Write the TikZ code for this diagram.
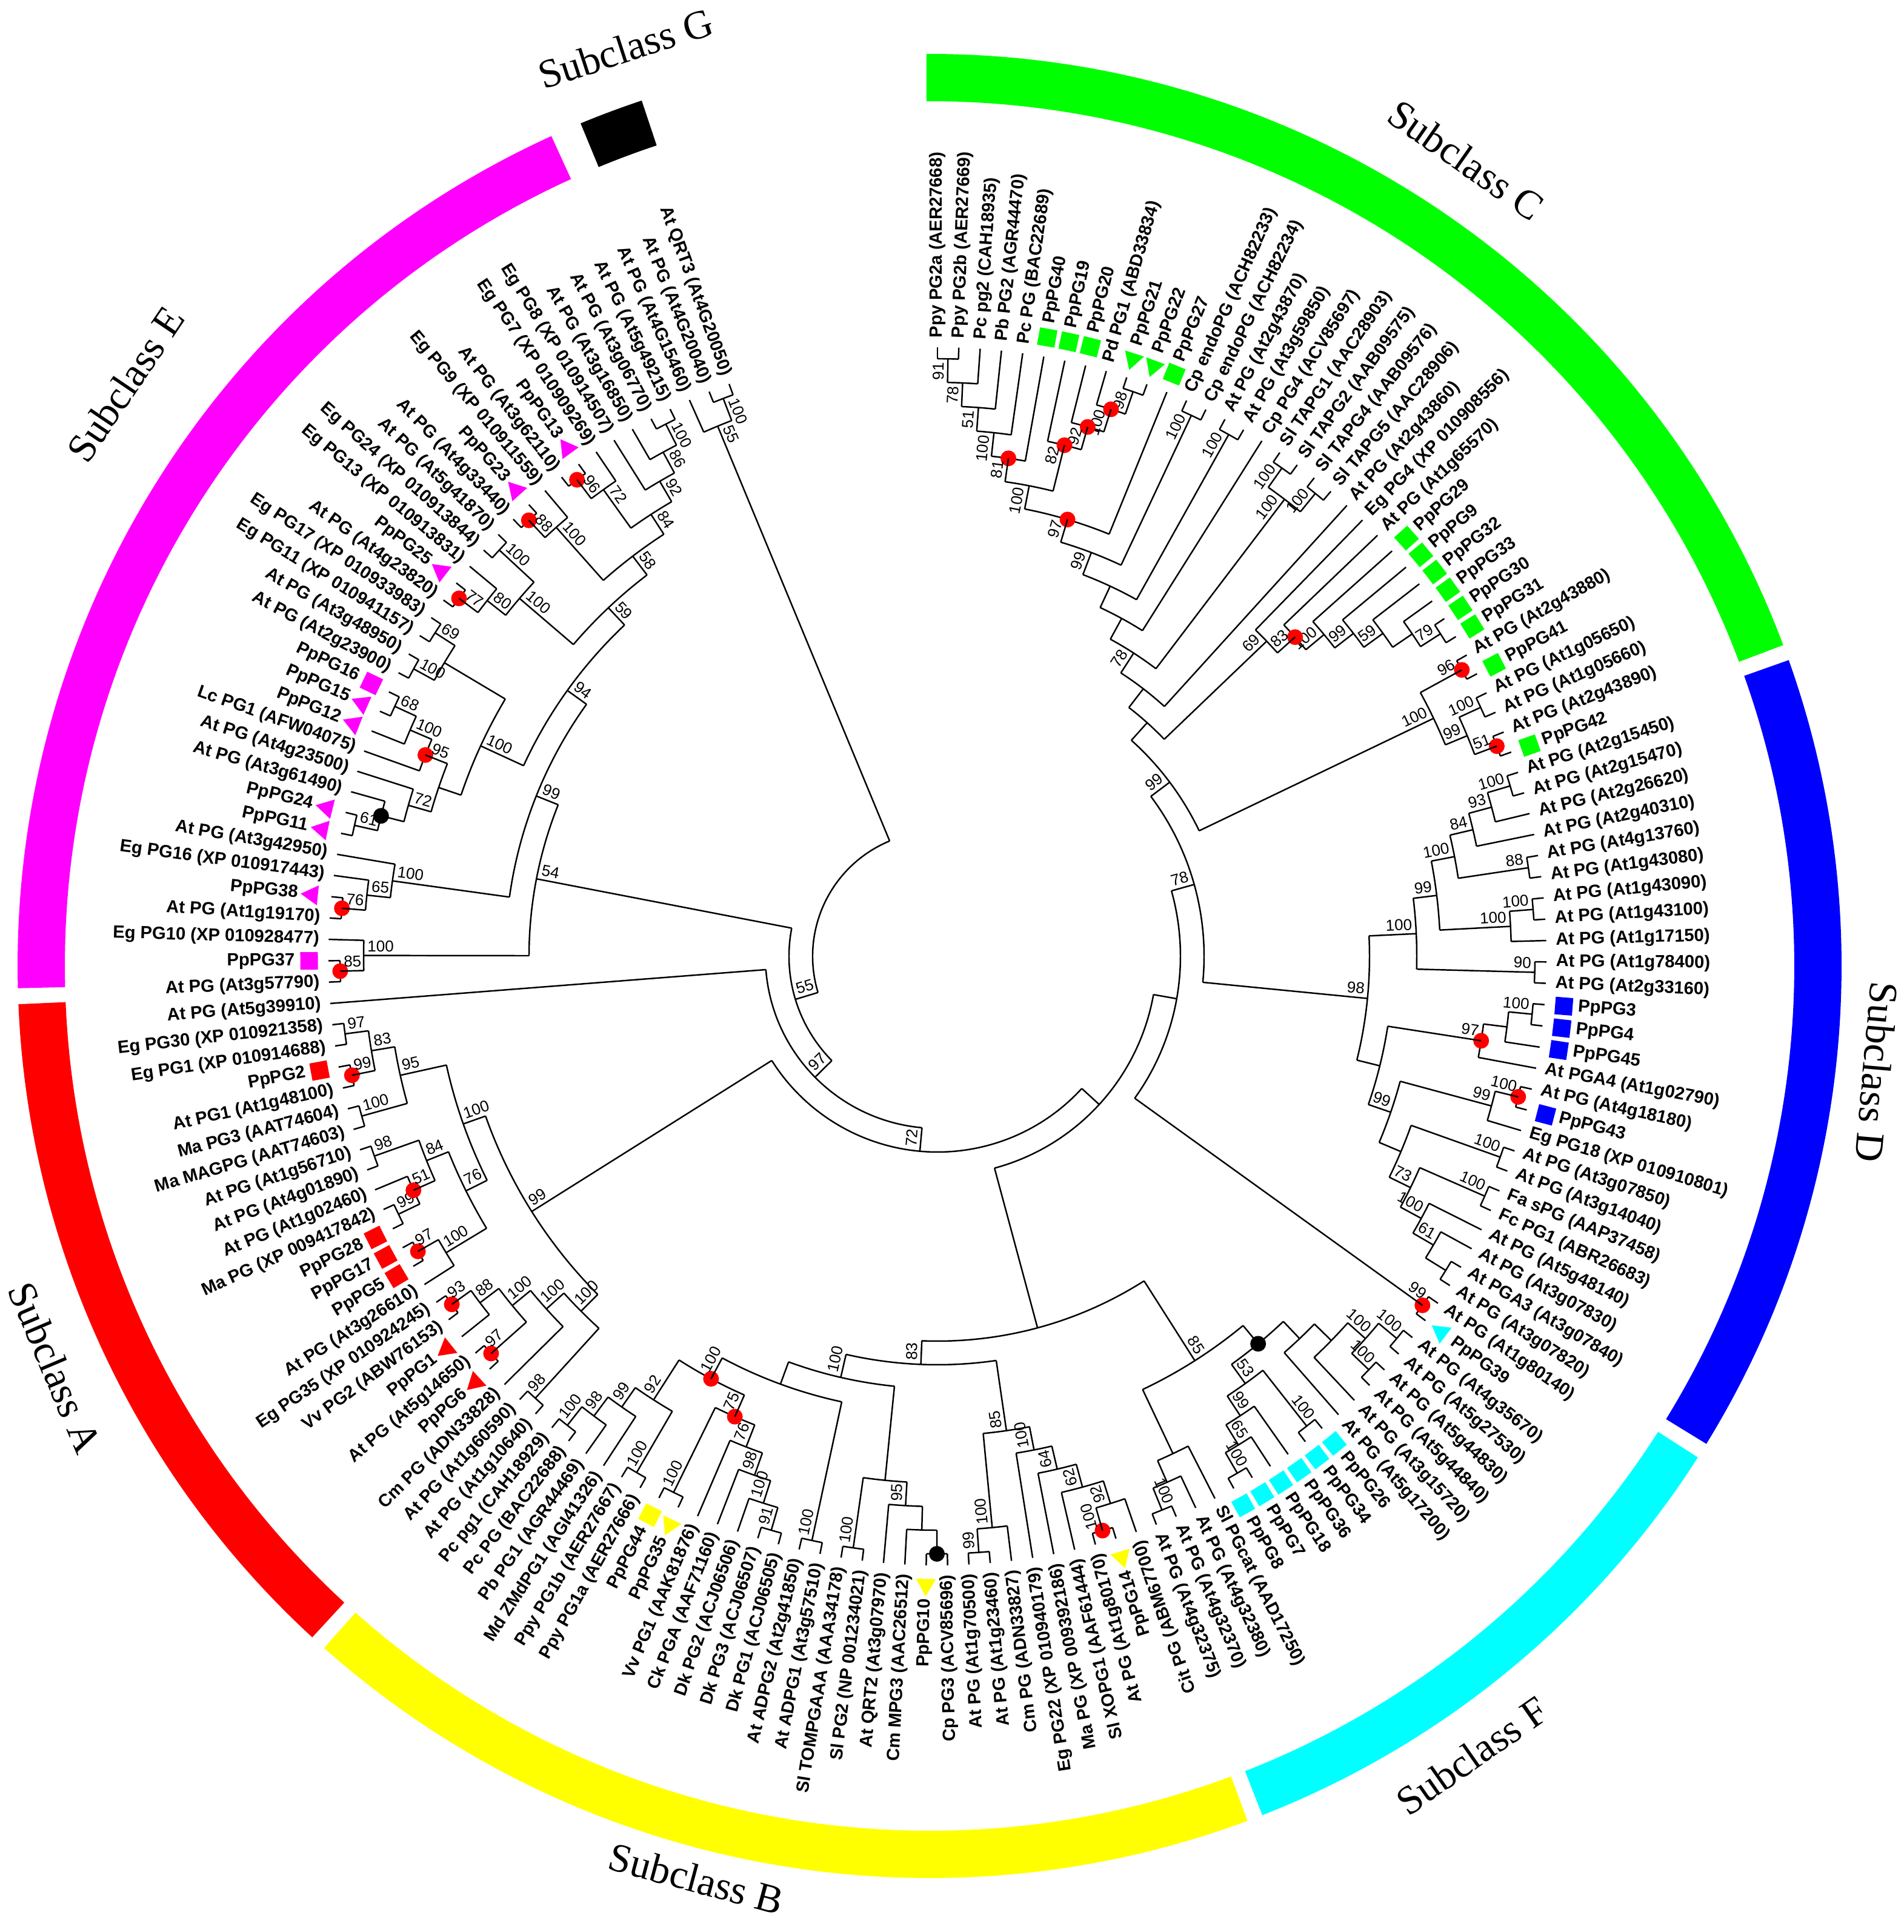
\documentclass[tikz,border=0pt]{standalone}
\usepackage{fontspec}
\setmainfont{Liberation Sans}
\newfontfamily\subfont{Liberation Serif}
\usetikzlibrary{shapes.geometric}
\definecolor{cgreen}{RGB}{0,255,0}
\definecolor{cblue}{RGB}{0,0,255}
\definecolor{ccyan}{RGB}{0,255,255}
\definecolor{cyellow}{RGB}{255,255,0}
\definecolor{cred}{RGB}{255,0,0}
\definecolor{cmag}{RGB}{255,0,255}
\definecolor{dotred}{RGB}{255,0,0}
\tikzset{
  tree/.style={line width=0.7pt},
  leaflab/.style={font=\fontsize{8.3}{9}\selectfont\bfseries, inner sep=0pt},
  bslab/.style={font=\fontsize{7.4}{8.5}\selectfont, inner sep=1.6pt},
  sqm/.style={rectangle, minimum size=0.29cm, inner sep=0pt},
  trim/.style={regular polygon, regular polygon sides=3, minimum size=0.38cm, inner sep=0pt},
  sublab/.style={font=\subfont\fontsize{19}{22}\selectfont, inner sep=0pt}
}
\def\stepA{2.0118}
\def\Rt{10.05}
\def\Rz{10.25}
\def\dd{0.39}
\newcommand\LD[4]{\expandafter\def\csname ln#1\endcsname{#2}\expandafter\def\csname mt#1\endcsname{#3}\expandafter\def\csname mc#1\endcsname{#4}}
\LD{1}{Ppy PG2a (AER27668)}{0}{}
\LD{2}{Ppy PG2b (AER27669)}{0}{}
\LD{3}{Pc pg2 (CAH18935)}{0}{}
\LD{4}{Pb PG2 (AGR44470)}{0}{}
\LD{5}{Pc PG (BAC22689)}{0}{}
\LD{6}{PpPG40}{1}{cgreen}
\LD{7}{PpPG19}{1}{cgreen}
\LD{8}{PpPG20}{1}{cgreen}
\LD{9}{Pd PG1 (ABD33834)}{0}{}
\LD{10}{PpPG21}{2}{cgreen}
\LD{11}{PpPG22}{2}{cgreen}
\LD{12}{PpPG27}{1}{cgreen}
\LD{13}{Cp endoPG (ACH82233)}{0}{}
\LD{14}{Cp endoPG (ACH82234)}{0}{}
\LD{15}{At PG (At2g43870)}{0}{}
\LD{16}{At PG (At3g59850)}{0}{}
\LD{17}{Cp PG4 (ACV85697)}{0}{}
\LD{18}{Sl TAPG1 (AAC28903)}{0}{}
\LD{19}{Sl TAPG2 (AAB09575)}{0}{}
\LD{20}{Sl TAPG4 (AAB09576)}{0}{}
\LD{21}{Sl TAPG5 (AAC28906)}{0}{}
\LD{22}{At PG (At2g43860)}{0}{}
\LD{23}{Eg PG4 (XP 010908556)}{0}{}
\LD{24}{At PG (At1g65570)}{0}{}
\LD{25}{PpPG29}{1}{cgreen}
\LD{26}{PpPG9}{1}{cgreen}
\LD{27}{PpPG32}{1}{cgreen}
\LD{28}{PpPG33}{1}{cgreen}
\LD{29}{PpPG30}{1}{cgreen}
\LD{30}{PpPG31}{1}{cgreen}
\LD{31}{At PG (At2g43880)}{0}{}
\LD{32}{PpPG41}{1}{cgreen}
\LD{33}{At PG (At1g05650)}{0}{}
\LD{34}{At PG (At1g05660)}{0}{}
\LD{35}{At PG (At2g43890)}{0}{}
\LD{36}{PpPG42}{1}{cgreen}
\LD{37}{At PG (At2g15450)}{0}{}
\LD{38}{At PG (At2g15470)}{0}{}
\LD{39}{At PG (At2g26620)}{0}{}
\LD{40}{At PG (At2g40310)}{0}{}
\LD{41}{At PG (At4g13760)}{0}{}
\LD{42}{At PG (At1g43080)}{0}{}
\LD{43}{At PG (At1g43090)}{0}{}
\LD{44}{At PG (At1g43100)}{0}{}
\LD{45}{At PG (At1g17150)}{0}{}
\LD{46}{At PG (At1g78400)}{0}{}
\LD{47}{At PG (At2g33160)}{0}{}
\LD{48}{PpPG3}{1}{cblue}
\LD{49}{PpPG4}{1}{cblue}
\LD{50}{PpPG45}{1}{cblue}
\LD{51}{At PGA4 (At1g02790)}{0}{}
\LD{52}{At PG (At4g18180)}{0}{}
\LD{53}{PpPG43}{1}{cblue}
\LD{54}{Eg PG18 (XP 010910801)}{0}{}
\LD{55}{At PG (At3g07850)}{0}{}
\LD{56}{At PG (At3g14040)}{0}{}
\LD{57}{Fa sPG (AAP37458)}{0}{}
\LD{58}{Fc PG1 (ABR26683)}{0}{}
\LD{59}{At PG (At5g48140)}{0}{}
\LD{60}{At PG (At3g07830)}{0}{}
\LD{61}{At PGA3 (At3g07840)}{0}{}
\LD{62}{At PG (At3g07820)}{0}{}
\LD{63}{At PG (At1g80140)}{0}{}
\LD{64}{PpPG39}{2}{ccyan}
\LD{65}{At PG (At4g35670)}{0}{}
\LD{66}{At PG (At5g27530)}{0}{}
\LD{67}{At PG (At5g44830)}{0}{}
\LD{68}{At PG (At5g44840)}{0}{}
\LD{69}{At PG (At3g15720)}{0}{}
\LD{70}{At PG (At5g17200)}{0}{}
\LD{71}{PpPG26}{1}{ccyan}
\LD{72}{PpPG34}{1}{ccyan}
\LD{73}{PpPG36}{1}{ccyan}
\LD{74}{PpPG18}{1}{ccyan}
\LD{75}{PpPG7}{1}{ccyan}
\LD{76}{PpPG8}{1}{ccyan}
\LD{77}{Sl PGcat (AAD17250)}{0}{}
\LD{78}{At PG (At4g32380)}{0}{}
\LD{79}{At PG (At4g32370)}{0}{}
\LD{80}{At PG (At4g32375)}{0}{}
\LD{81}{Cit PG (ABM67700)}{0}{}
\LD{82}{PpPG14}{2}{cyellow}
\LD{83}{At PG (At1g80170)}{0}{}
\LD{84}{Sl XOPG1 (AAF61444)}{0}{}
\LD{85}{Ma PG (XP 009392186)}{0}{}
\LD{86}{Eg PG22 (XP 010940179)}{0}{}
\LD{87}{Cm PG (ADN33827)}{0}{}
\LD{88}{At PG (At1g23460)}{0}{}
\LD{89}{At PG (At1g70500)}{0}{}
\LD{90}{Cp PG3 (ACV85696)}{0}{}
\LD{91}{PpPG10}{2}{cyellow}
\LD{92}{Cm MPG3 (AAC26512)}{0}{}
\LD{93}{At QRT2 (At3g07970)}{0}{}
\LD{94}{Sl PG2 (NP 001234021)}{0}{}
\LD{95}{Sl TOMPGAAA (AAA34178)}{0}{}
\LD{96}{At ADPG1 (At3g57510)}{0}{}
\LD{97}{At ADPG2 (At2g41850)}{0}{}
\LD{98}{Dk PG1 (ACJ06505)}{0}{}
\LD{99}{Dk PG3 (ACJ06507)}{0}{}
\LD{100}{Dk PG2 (ACJ06506)}{0}{}
\LD{101}{Ck PGA (AAF71160)}{0}{}
\LD{102}{Vv PG1 (AAK81876)}{0}{}
\LD{103}{PpPG35}{2}{cyellow}
\LD{104}{PpPG44}{1}{cyellow}
\LD{105}{Ppy PG1a (AER27666)}{0}{}
\LD{106}{Ppy PG1b (AER27667)}{0}{}
\LD{107}{Md ZMdPG1 (AGI41326)}{0}{}
\LD{108}{Pb PG1 (AGR44469)}{0}{}
\LD{109}{Pc PG (BAC22688)}{0}{}
\LD{110}{Pc pg1 (CAH18929)}{0}{}
\LD{111}{At PG (At1g10640)}{0}{}
\LD{112}{At PG (At1g60590)}{0}{}
\LD{113}{Cm PG (ADN33828)}{0}{}
\LD{114}{PpPG6}{2}{cred}
\LD{115}{At PG (At5g14650)}{0}{}
\LD{116}{PpPG1}{2}{cred}
\LD{117}{Vv PG2 (ABW76153)}{0}{}
\LD{118}{Eg PG35 (XP 010924245)}{0}{}
\LD{119}{At PG (At3g26610)}{0}{}
\LD{120}{PpPG5}{1}{cred}
\LD{121}{PpPG17}{1}{cred}
\LD{122}{PpPG28}{1}{cred}
\LD{123}{Ma PG (XP 009417842)}{0}{}
\LD{124}{At PG (At1g02460)}{0}{}
\LD{125}{At PG (At4g01890)}{0}{}
\LD{126}{At PG (At1g56710)}{0}{}
\LD{127}{Ma MAGPG (AAT74603)}{0}{}
\LD{128}{Ma PG3 (AAT74604)}{0}{}
\LD{129}{At PG1 (At1g48100)}{0}{}
\LD{130}{PpPG2}{1}{cred}
\LD{131}{Eg PG1 (XP 010914688)}{0}{}
\LD{132}{Eg PG30 (XP 010921358)}{0}{}
\LD{133}{At PG (At5g39910)}{0}{}
\LD{134}{At PG (At3g57790)}{0}{}
\LD{135}{PpPG37}{1}{cmag}
\LD{136}{Eg PG10 (XP 010928477)}{0}{}
\LD{137}{At PG (At1g19170)}{0}{}
\LD{138}{PpPG38}{2}{cmag}
\LD{139}{Eg PG16 (XP 010917443)}{0}{}
\LD{140}{At PG (At3g42950)}{0}{}
\LD{141}{PpPG11}{2}{cmag}
\LD{142}{PpPG24}{2}{cmag}
\LD{143}{At PG (At3g61490)}{0}{}
\LD{144}{At PG (At4g23500)}{0}{}
\LD{145}{Lc PG1 (AFW04075)}{0}{}
\LD{146}{PpPG12}{2}{cmag}
\LD{147}{PpPG15}{2}{cmag}
\LD{148}{PpPG16}{1}{cmag}
\LD{149}{At PG (At2g23900)}{0}{}
\LD{150}{At PG (At3g48950)}{0}{}
\LD{151}{Eg PG11 (XP 010941157)}{0}{}
\LD{152}{Eg PG17 (XP 010933983)}{0}{}
\LD{153}{At PG (At4g23820)}{0}{}
\LD{154}{PpPG25}{2}{cmag}
\LD{155}{Eg PG13 (XP 010913831)}{0}{}
\LD{156}{Eg PG24 (XP 010913844)}{0}{}
\LD{157}{At PG (At5g41870)}{0}{}
\LD{158}{At PG (At4g33440)}{0}{}
\LD{159}{PpPG23}{2}{cmag}
\LD{160}{Eg PG9 (XP 010911559)}{0}{}
\LD{161}{At PG (At3g62110)}{0}{}
\LD{162}{PpPG13}{2}{cmag}
\LD{163}{Eg PG7 (XP 010909269)}{0}{}
\LD{164}{Eg PG8 (XP 010914507)}{0}{}
\LD{165}{At PG (At3g16850)}{0}{}
\LD{166}{At PG (At3g06770)}{0}{}
\LD{167}{At PG (At5g49215)}{0}{}
\LD{168}{At PG (At4G15460)}{0}{}
\LD{169}{At PG (At4G20040)}{0}{}
\LD{170}{At QRT3 (At4G20050)}{0}{}

\newcommand\addchild[3]{%
  \edef\clist{\unexpanded\expandafter{\clist}\noexpand\chd{#1}{#2}}%
  \ifx\cfirst\empty\edef\cfirst{#1}\fi
  \edef\clast{#1}%
  \pgfmathtruncatemacro\cmaxh{max(\cmaxh,#3)}%
}
\newcommand\drawleaf[1]{%
  \pgfmathtruncatemacro\flip{(mod(\tmpa+720,360)>109.5)&&(mod(\tmpa+720,360)<290)}%
  \edef\mt{\csname mt#1\endcsname}%
  \edef\mc{\csname mc#1\endcsname}%
  \ifcase\mt\relax
    \def\rl{10.20}%
  \or
    \def\rl{10.60}%
    \node[sqm,fill=\mc,rotate=\tmpa] at (\tmpa:10.37) {};%
  \or
    \def\rl{10.60}%
    \ifnum\flip=1
      \node[trim,fill=\mc,rotate=\tmpa-90] at (\tmpa:10.37) {};%
    \else
      \node[trim,fill=\mc,rotate=\tmpa+90] at (\tmpa:10.37) {};%
    \fi
  \fi
  \ifnum\flip=1
    \node[leaflab,rotate=\tmpa+180,anchor=east] at (\tmpa:\rl) {\csname ln#1\endcsname};%
  \else
    \node[leaflab,rotate=\tmpa,anchor=west] at (\tmpa:\rl) {\csname ln#1\endcsname};%
  \fi
}
\newcommand\Lf[1]{%
  \pgfmathsetmacro\tmpa{90-(#1-1)*\stepA}%
  \drawleaf{#1}%
  \addchild{\tmpa}{\Rt}{0}%
}
\newcommand\nodeextras[2]{%
  \if r#2\fill[dotred] (\mya:\myr) circle[radius=0.13cm];\fi
  \if k#2\fill[black] (\mya:\myr) circle[radius=0.13cm];\fi
  \if\relax\detokenize{#1}\relax\else
    \pgfmathtruncatemacro\flipb{(mod(\mya+720,360)>109.5)&&(mod(\mya+720,360)<290)}%
    \ifnum\flipb=1
      \node[bslab,rotate=\mya+180,anchor=south west] at (\mya:\myr) {#1};%
    \else
      \node[bslab,rotate=\mya,anchor=south east] at (\mya:\myr) {#1};%
    \fi
  \fi
}
\newcommand\Nd[3]{%
  \begingroup
    \def\clist{}\let\cfirst\empty\def\clast{}\def\cmaxh{0}%
    #3%
    \pgfmathtruncatemacro\myh{\cmaxh+1}%
    \pgfmathsetmacro\myr{\Rz-\dd*\myh}%
    \pgfmathsetmacro\mya{(\cfirst+\clast)/2}%
    \def\chd##1##2{\draw[tree] (##1:##2) -- (##1:\myr);}%
    \clist
    \draw[tree] (\cfirst:\myr) arc[start angle=\cfirst,end angle=\clast,radius=\myr cm];%
    \nodeextras{#1}{#2}%
    \xdef\retA{\mya}\xdef\retR{\myr}\xdef\retH{\myh}%
  \endgroup
  \addchild{\retA}{\retR}{\retH}%
}

% ---- subclass E / G
\def\trEone{\Nd{100}{0}{\Nd{85}{r}{\Lf{134}\Lf{135}}\Lf{136}}}
\def\trEfour{\Nd{100}{0}{\Nd{65}{0}{\Nd{76}{r}{\Lf{137}\Lf{138}}\Lf{139}}\Lf{140}}}
\def\trEsev{\Nd{72}{0}{\Nd{}{k}{\Nd{61}{0}{\Lf{141}\Lf{142}}\Lf{143}}\Lf{144}}}
\def\trEnin{\Nd{95}{r}{\Lf{145}\Nd{100}{0}{\Lf{146}\Nd{68}{0}{\Lf{147}\Lf{148}}}}}
\def\trEmix{\Nd{100}{0}{\Nd{}{0}{\trEsev\trEnin}\Nd{}{0}{\Nd{100}{0}{\Lf{149}\Lf{150}}\Nd{69}{0}{\Lf{151}\Lf{152}}}}}
\def\trEBone{\Nd{100}{0}{\Nd{80}{0}{\Nd{77}{r}{\Lf{153}\Lf{154}}\Lf{155}}\Nd{100}{0}{\Lf{156}\Lf{157}}}}
\def\trEmidone{\Nd{100}{0}{\Nd{88}{r}{\Lf{158}\Lf{159}}\Lf{160}}}
\def\trEeight{\Nd{84}{0}{\Nd{72}{0}{\Nd{96}{r}{\Lf{161}\Lf{162}}\Lf{163}}\Nd{92}{0}{\Lf{164}\Nd{86}{0}{\Lf{165}\Nd{100}{0}{\Lf{166}\Lf{167}}}}}}
\def\trEfive{\Nd{58}{0}{\trEmidone\trEeight}}
\def\trEnine{\Nd{59}{0}{\trEBone\trEfive}}
\def\trEninefour{\Nd{94}{0}{\trEmix\trEnine}}
\def\trEmain{\Nd{99}{0}{\trEfour\trEninefour}}
\def\trEfiftyfour{\Nd{54}{0}{\trEone\trEmain}}
\def\trG{\Nd{55}{0}{\Lf{168}\Nd{100}{0}{\Lf{169}\Lf{170}}}}
% ---- subclass A
\def\trAlow{\Nd{100}{0}{\Nd{98}{0}{\Lf{111}\Lf{112}}\Nd{100}{0}{\Lf{113}\Nd{100}{0}{\Nd{97}{r}{\Lf{114}\Lf{115}}\Nd{88}{0}{\Lf{116}\Nd{93}{r}{\Lf{117}\Lf{118}}}}}}}
\def\trAcone{\Nd{100}{0}{\Lf{119}\Nd{97}{r}{\Lf{120}\Lf{121}}}}
\def\trActwo{\Nd{84}{0}{\Nd{51}{r}{\Nd{99}{0}{\Lf{122}\Lf{123}}\Lf{124}}\Nd{98}{0}{\Lf{125}\Lf{126}}}}
\def\trAtop{\Nd{95}{0}{\Nd{100}{0}{\Lf{127}\Lf{128}}\Nd{83}{0}{\Nd{99}{r}{\Lf{129}\Lf{130}}\Nd{97}{0}{\Lf{131}\Lf{132}}}}}
\def\trAup{\Nd{100}{0}{\Nd{76}{0}{\trAcone\trActwo}\trAtop}}
\def\trA{\Nd{99}{0}{\trAlow\trAup}}
% ---- subclass B
\def\trBrnf{\Nd{95}{0}{\Nd{}{0}{\Nd{}{k}{\Lf{90}\Lf{91}}\Lf{92}}\Lf{93}}}
\def\trBr{\Nd{}{0}{\trBrnf\Nd{100}{0}{\Lf{94}\Lf{95}}}}
\def\trBdk{\Nd{76}{0}{\Nd{98}{0}{\Nd{100}{0}{\Nd{91}{0}{\Lf{98}\Lf{99}}\Lf{100}}\Lf{101}}\Lf{102}}}
\def\trBdkpp{\Nd{75}{r}{\trBdk\Nd{100}{0}{\Lf{103}\Lf{104}}}}
\def\trBpear{\Nd{92}{0}{\Nd{100}{0}{\Lf{105}\Lf{106}}\Nd{99}{0}{\Lf{107}\Nd{98}{0}{\Lf{108}\Nd{100}{0}{\Lf{109}\Lf{110}}}}}}
\def\trBleft{\Nd{100}{r}{\trBdkpp\trBpear}}
\def\trBhundred{\Nd{100}{0}{\trBr\Nd{}{0}{\Nd{100}{0}{\Lf{96}\Lf{97}}\trBleft}}}
\def\trX{\Nd{85}{0}{\Nd{100}{0}{\Nd{64}{0}{\Nd{62}{0}{\Nd{92}{0}{\Lf{81}\Nd{100}{r}{\Lf{82}\Lf{83}}}\Lf{84}}\Lf{85}}\Lf{86}}\Nd{100}{0}{\Lf{87}\Nd{99}{0}{\Lf{88}\Lf{89}}}}}
\def\trNeightythree{\Nd{83}{0}{\trX\trBhundred}}
% ---- subclass F
\def\trFtop{\Nd{}{0}{\Nd{}{0}{\Nd{100}{0}{\Nd{100}{0}{\Lf{65}\Lf{66}}\Nd{100}{0}{\Lf{67}\Lf{68}}}\Lf{69}}\Lf{70}}}
\def\trFpp{\Nd{53}{0}{\Nd{100}{0}{\Lf{71}\Lf{72}}\Nd{99}{0}{\Lf{73}\Nd{65}{0}{\Lf{74}\Nd{100}{0}{\Lf{75}\Lf{76}}}}}}
\def\trFsl{\Nd{}{0}{\Lf{77}\Nd{}{0}{\Lf{78}\Nd{100}{0}{\Lf{79}\Lf{80}}}}}
\def\trF{\Nd{85}{0}{\Nd{}{k}{\trFtop\trFpp}\trFsl}}
\def\trNBF{\Nd{}{0}{\trF\trNeightythree}}
% ---- subclass C / D
\def\trPear{\Nd{100}{0}{\Nd{51}{0}{\Nd{78}{0}{\Nd{91}{0}{\Lf{1}\Lf{2}}\Lf{3}}\Lf{4}}\Lf{5}}}
\def\trCa{\Nd{100}{0}{\Nd{81}{r}{\trPear\Lf{6}}\Nd{82}{r}{\Lf{7}\Nd{92}{r}{\Lf{8}\Nd{100}{r}{\Lf{9}\Nd{98}{0}{\Lf{10}\Lf{11}}}}}}}
\def\trCb{\Nd{99}{0}{\Nd{97}{r}{\trCa\Lf{12}}\Nd{100}{0}{\Lf{13}\Lf{14}}}}
\def\trCc{\Nd{78}{0}{\Nd{}{0}{\Nd{}{0}{\trCb\Nd{100}{0}{\Lf{15}\Lf{16}}}\Lf{17}}\Nd{100}{0}{\Nd{100}{0}{\Lf{18}\Lf{19}}\Nd{100}{0}{\Lf{20}\Lf{21}}}}}
\def\trCd{\Nd{}{0}{\trCc\Lf{22}}}
\def\trCright{\Nd{69}{0}{\Lf{23}\Nd{83}{r}{\Lf{24}\Nd{100}{0}{\Lf{25}\Nd{99}{0}{\Lf{26}\Nd{59}{0}{\Lf{27}\Nd{}{0}{\Lf{28}\Nd{79}{0}{\Lf{29}\Lf{30}}}}}}}}}
\def\trDone{\Nd{100}{0}{\Nd{96}{r}{\Lf{31}\Lf{32}}\Nd{99}{0}{\Nd{100}{0}{\Lf{33}\Lf{34}}\Nd{51}{r}{\Lf{35}\Lf{36}}}}}
\def\trCnn{\Nd{99}{0}{\Nd{}{0}{\trCd\trCright}\trDone}}
\def\trDuone{\Nd{84}{0}{\Nd{93}{0}{\Nd{100}{0}{\Lf{37}\Lf{38}}\Lf{39}}\Lf{40}}}
\def\trDu{\Nd{99}{0}{\Nd{100}{0}{\trDuone\Nd{88}{0}{\Lf{41}\Lf{42}}}\Nd{100}{0}{\Nd{100}{0}{\Lf{43}\Lf{44}}\Lf{45}}}}
\def\trDup{\Nd{100}{0}{\trDu\Nd{90}{0}{\Lf{46}\Lf{47}}}}
\def\trDlone{\Nd{97}{r}{\Nd{}{0}{\Nd{100}{0}{\Lf{48}\Lf{49}}\Lf{50}}\Lf{51}}}
\def\trDla{\Nd{99}{0}{\Nd{100}{r}{\Lf{52}\Lf{53}}\Lf{54}}}
\def\trDlc{\Nd{73}{0}{\Nd{100}{0}{\Lf{57}\Lf{58}}\Nd{100}{0}{\Lf{59}\Nd{61}{0}{\Lf{60}\Nd{}{0}{\Lf{61}\Lf{62}}}}}}
\def\trDltwo{\Nd{99}{0}{\trDla\Nd{}{0}{\Nd{100}{0}{\Lf{55}\Lf{56}}\trDlc}}}
\def\trDlow{\Nd{}{0}{\trDlone\trDltwo}}
\def\trDnn{\Nd{98}{0}{\trDup\trDlow}}
\def\trNseventyeight{\Nd{78}{0}{\trCnn\trDnn}}
\def\trNrone{\Nd{}{0}{\trNseventyeight\Nd{99}{r}{\Lf{63}\Lf{64}}}}
\def\trNrtwo{\Nd{}{0}{\trNrone\trNBF}}
\def\trNseventytwo{\Nd{72}{0}{\trNrtwo\trA}}
\def\trNninetyseven{\Nd{97}{0}{\trNseventytwo\Lf{133}}}
\def\trNfiftyfive{\Nd{55}{0}{\trNninetyseven\trEfiftyfour}}
\def\trRoot{\Nd{}{0}{\trNfiftyfive\trG}}

\begin{document}
\begin{tikzpicture}
\useasboundingbox (-15.47,-16.10) rectangle (15.94,15.78);
\fill[white] (-15.47,-16.10) rectangle (15.94,15.78);
% outer ring
\coordinate (rc) at (-0.13,-0.16);
\foreach \a/\b/\c in {90.2/20.6/cgreen, 19.6/-31.6/cblue, -32.6/-68.6/ccyan, -69.6/-131.6/cyellow, -132.6/-177.6/cred, -178.6/-245.5/cmag, -247.5/-251.6/black}{
  \draw[\c, line width=0.78cm] ([shift={(\a:14.66)}]rc) arc[start angle=\a, end angle=\b, radius=14.66cm];
}
% subclass labels
\node[sublab, rotate=18] (sG) at (-5.15,14.98) {Subclass G};
\node[sublab, rotate=-35] (sC) at (8.72,13.14) {Subclass C};
\node[sublab, rotate=-95] (sD) at (15.50,-1.91) {Subclass D};
\node[sublab, rotate=35] (sF) at (8.82,-13.19) {Subclass F};
\node[sublab, rotate=-15] (sB) at (-3.98,-15.22) {Subclass B};
\node[sublab, rotate=-67] (sA) at (-14.56,-6.79) {Subclass A};
\node[sublab, rotate=56] (sE) at (-13.40,9.44) {Subclass E};
% tree
\def\clist{}\let\cfirst\empty\def\clast{}\def\cmaxh{0}%
\trRoot
\end{tikzpicture}
\end{document}
